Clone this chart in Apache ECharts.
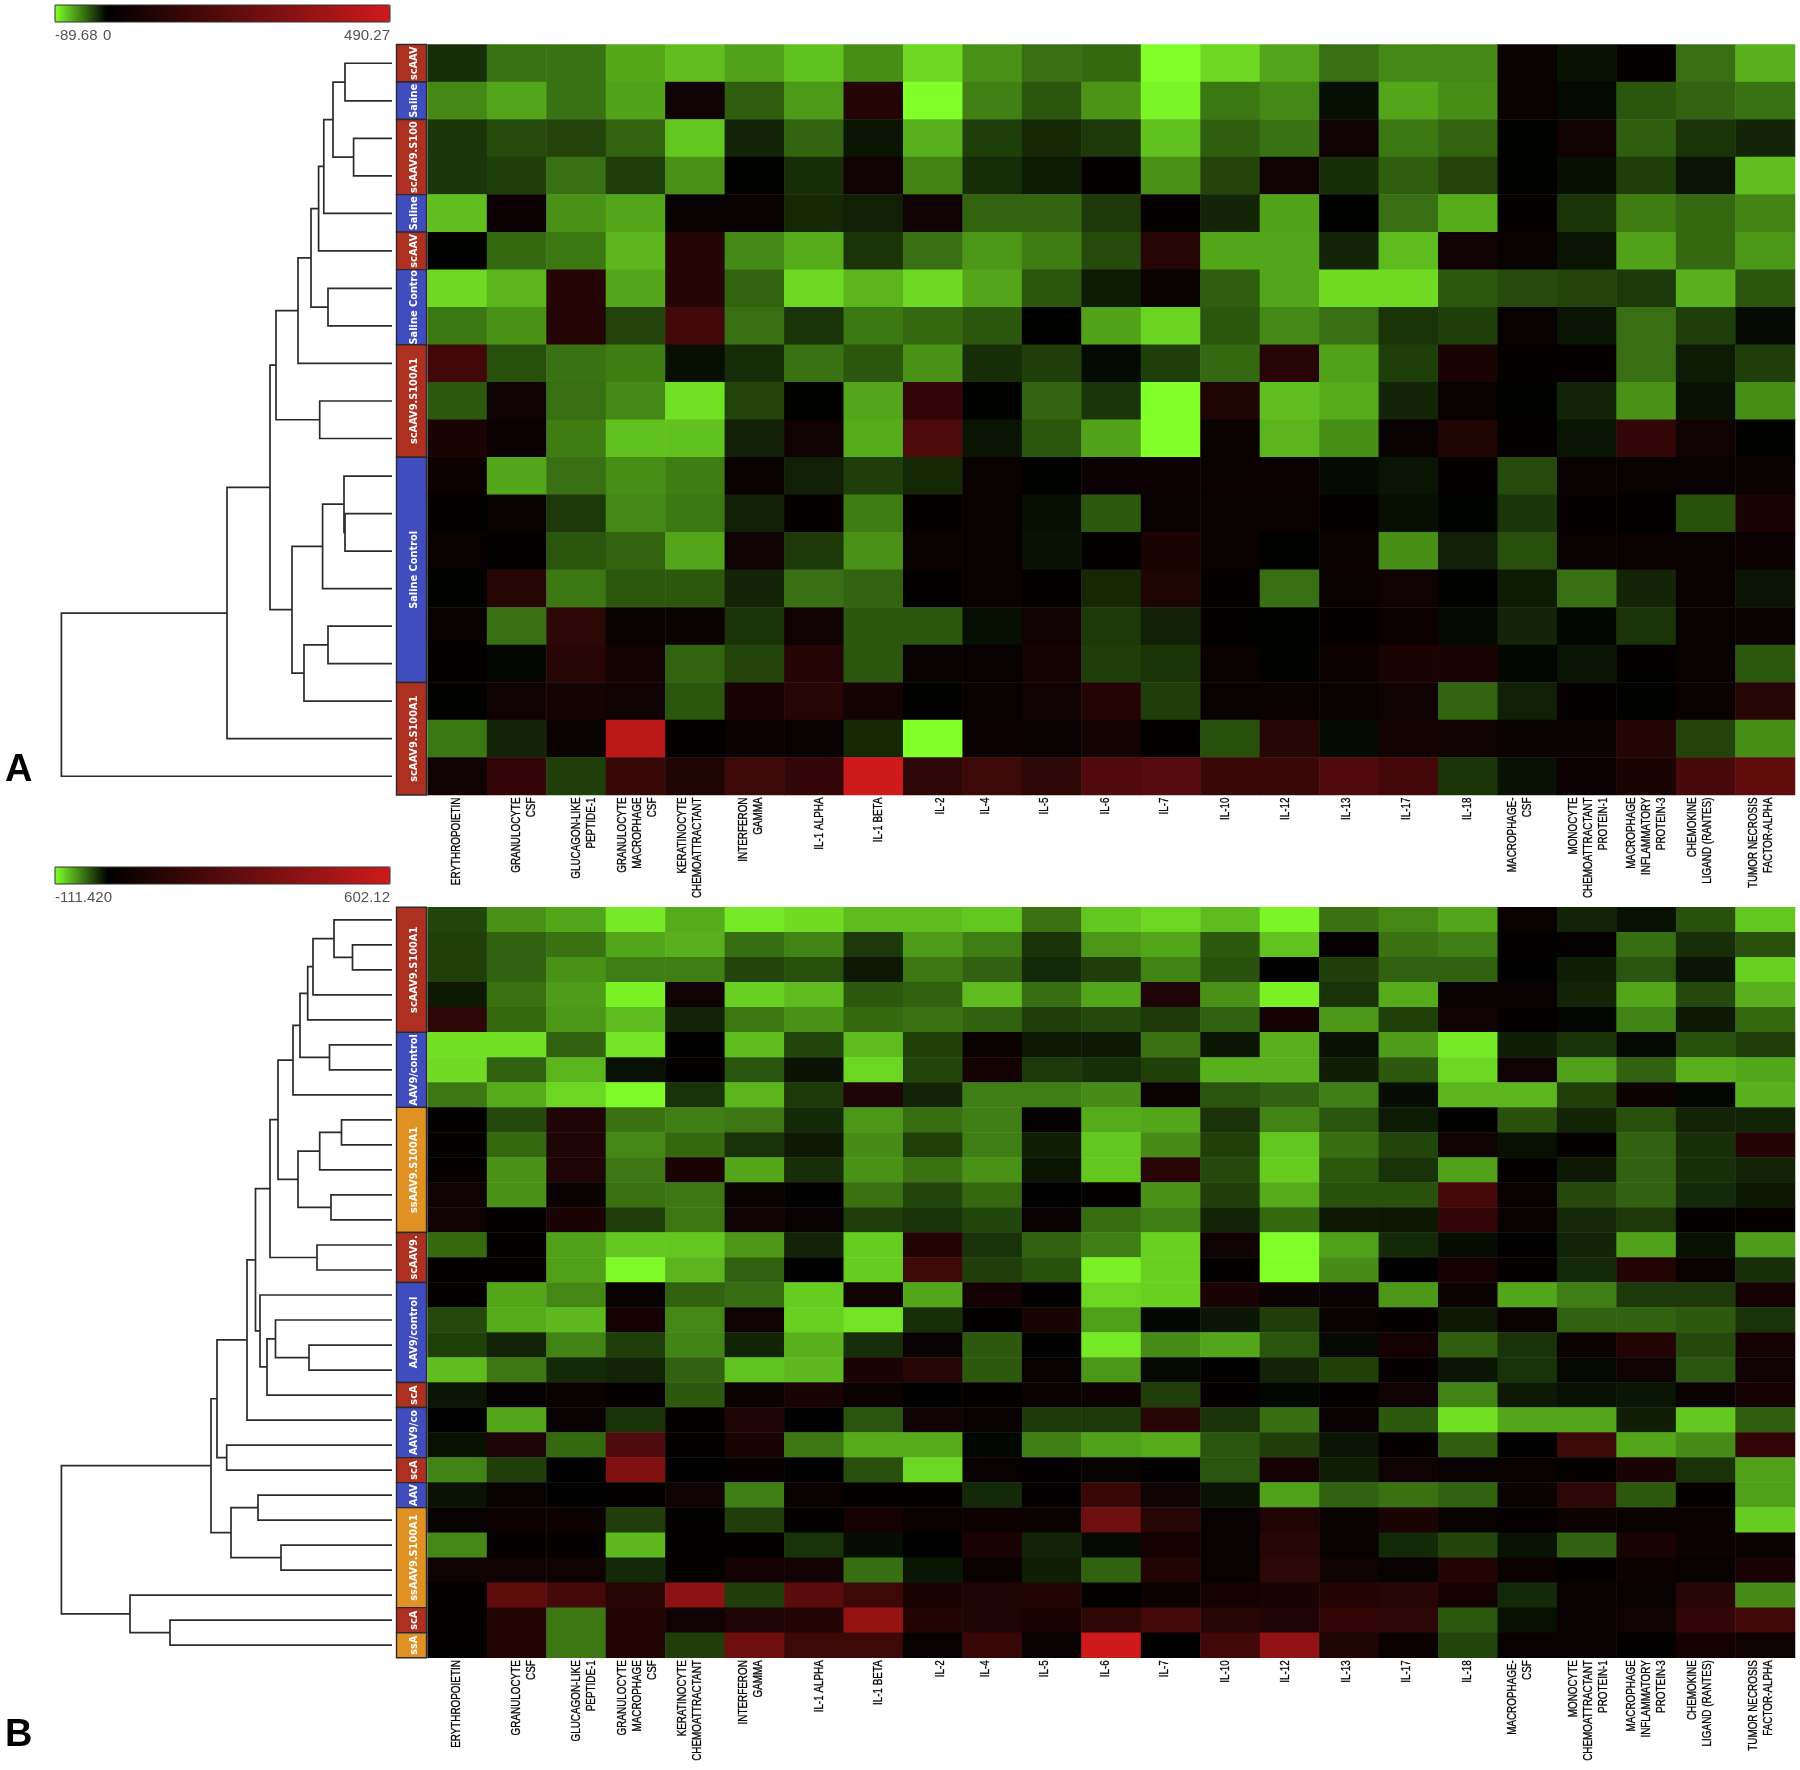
<!DOCTYPE html>
<html><head><meta charset="utf-8">
<style>html,body{margin:0;padding:0;background:#fff}#c{width:1800px;height:1770px}</style>
<script src="https://cdn.jsdelivr.net/npm/echarts@6/dist/echarts.min.js"></script>
</head><body><div id="c"></div>
<script>
const cytokines = ["ERYTHROPOIETIN","GRANULOCYTE\nCSF","GLUCAGON-LIKE\nPEPTIDE-1","GRANULOCYTE\nMACROPHAGE\nCSF","KERATINOCYTE\nCHEMOATTRACTANT","INTERFERON\nGAMMA","IL-1 ALPHA","IL-1 BETA","IL-2","IL-4","IL-5","IL-6","IL-7","IL-10","IL-12","IL-13","IL-17","IL-18","MACROPHAGE-\nCSF","MONOCYTE\nCHEMOATTRACTANT\nPROTEIN-1","MACROPHAGE\nINFLAMMATORY\nPROTEIN-3","CHEMOKINE\nLIGAND (RANTES)","TUMOR NECROSIS\nFACTOR-ALPHA"];

const rangeA = [-89.68, 490.27];
const rangeB = [-111.42, 602.12];

const heatA = [
[-16,-40,-40,-59,-67,-57,-68,-50,-76,-51,-39,-37,-90,-76,-58,-39,-48,-48,24,-6,12,-39,-62],
[-48,-58,-40,-57,36,-33,-54,84,-90,-45,-30,-52,-86,-42,-48,-5,-58,-50,24,-3,-30,-35,-40],
[-19,-26,-24,-35,-70,-13,-35,-7,-62,-22,-14,-20,-68,-33,-40,36,-42,-35,0,36,-33,-18,-13],
[-19,-22,-39,-22,-51,0,-16,36,-46,-16,-9,12,-51,-24,36,-16,-33,-24,0,-5,-22,-7,-67],
[-67,29,-51,-58,19,19,-14,-11,36,-35,-35,-20,12,-13,-57,0,-39,-60,12,-18,-44,-37,-46],
[0,-37,-42,-64,84,-48,-60,-18,-39,-53,-44,-26,96,-58,-58,-13,-66,36,19,-7,-57,-37,-53],
[-76,-64,84,-58,84,-35,-76,-64,-76,-58,-30,-9,24,-33,-58,-77,-77,-31,-26,-24,-20,-62,-30],
[-42,-51,84,-24,156,-39,-18,-42,-37,-30,0,-57,-74,-30,-48,-39,-18,-22,19,-7,-39,-22,-4],
[156,-28,-40,-44,-5,-16,-40,-30,-51,-16,-22,-3,-22,-37,96,-57,-22,60,12,12,-39,-9,-22],
[-31,36,-39,-48,-79,-24,0,-58,120,0,-35,-18,-90,72,-67,-60,-13,19,0,-13,-51,-6,-50],
[60,29,-44,-68,-68,-11,36,-60,180,-7,-30,-57,-90,24,-64,-50,19,72,12,-7,120,36,0],
[29,-58,-39,-50,-44,24,-11,-22,-14,24,0,29,29,24,29,-4,-7,12,-26,19,19,19,24],
[7,19,-20,-48,-42,-11,12,-44,12,19,-5,-31,19,24,24,12,-5,-1,-19,12,7,-28,60],
[19,7,-30,-35,-58,36,-20,-51,24,19,-6,7,60,24,0,24,-50,-11,-28,19,24,19,29],
[0,96,-42,-31,-31,-13,-39,-35,7,24,7,-14,72,12,-39,24,36,0,-9,-39,-13,24,-7],
[19,-39,108,24,24,-18,36,-30,-30,-5,36,-20,-11,7,0,12,29,-3,-13,-2,-18,19,19],
[12,-2,96,48,-35,-24,84,-30,19,19,48,-22,-18,24,0,29,60,60,-2,-7,7,19,-31],
[0,36,48,36,-30,60,96,48,0,19,36,84,-22,19,24,19,36,-35,-11,12,0,24,96],
[-42,-13,24,442,7,29,19,-14,-90,29,19,48,7,-28,96,-4,43,36,24,24,84,-24,-50],
[36,120,-22,132,72,144,120,490,108,144,108,192,204,132,132,192,156,-18,-6,29,60,168,228]
];

const heatB = [
[-30,-64,-72,-102,-75,-102,-96,-82,-82,-87,-50,-87,-94,-82,-107,-50,-59,-72,23,-16,-7,-35,-87],
[-28,-43,-50,-72,-77,-48,-57,-25,-68,-55,-22,-66,-72,-39,-85,15,-50,-55,9,15,-48,-20,-35],
[-28,-43,-64,-55,-55,-30,-35,-11,-52,-43,-18,-27,-57,-35,0,-27,-43,-43,0,-13,-37,-9,-91],
[-11,-50,-68,-105,44,-91,-82,-39,-43,-82,-48,-72,87,-64,-105,-22,-75,23,23,-16,-72,-32,-77],
[130,-46,-66,-82,-16,-52,-64,-46,-50,-43,-27,-32,-25,-43,58,-66,-28,44,15,-2,-57,-11,-46],
[-98,-98,-43,-100,0,-82,-30,-82,-28,29,-11,-11,-50,-9,-77,-7,-68,-102,-13,-22,-4,-35,-27],
[-96,-43,-79,-7,9,-37,-8,-94,-30,58,-25,-20,-28,-77,-77,-13,-39,-94,44,-70,-43,-77,-72],
[-52,-75,-94,-109,-22,-79,-25,87,-16,-55,-55,-61,23,-37,-43,-55,-6,-79,-79,-28,35,-2,-77],
[9,-32,87,-50,-55,-52,-18,-66,-48,-55,15,-75,-72,-22,-57,-37,-12,9,-35,-16,-35,-16,-16],
[15,-46,87,-59,-46,-22,-11,-61,-28,-55,-13,-87,-61,-28,-87,-48,-30,44,-7,15,-43,-20,102],
[15,-64,87,-52,73,-72,-20,-64,-50,-64,-9,-87,116,-32,-89,-39,-22,-70,9,-11,-43,-20,-16],
[44,-64,29,-50,-52,29,0,-50,-30,-46,0,9,-64,-27,-75,-35,-35,203,23,-32,-43,-18,-10],
[44,9,73,-27,-52,44,23,-27,-22,-30,23,-48,-55,-16,-46,-11,-10,145,23,-17,-25,15,15],
[-46,9,-70,-87,-87,-66,-16,-89,102,-22,-43,-55,-91,44,-111,-70,-18,-6,0,-16,-70,-7,-68],
[15,9,-70,-109,-79,-43,0,-89,174,-27,-35,-105,-91,9,-111,-61,0,58,15,-18,102,29,-20],
[9,-72,-59,23,-43,-48,-89,44,-72,58,0,-94,-91,73,35,29,-66,29,-72,-55,-25,-25,58],
[-32,-75,-81,58,-59,44,-91,-100,-20,9,73,-70,-3,-9,-27,29,15,-11,29,-43,-43,-39,-22],
[-28,-16,-57,-27,-57,-16,-77,-20,23,-39,0,-102,-61,-72,-37,-4,58,-41,-22,29,102,-32,58],
[-82,-52,-18,-16,-43,-85,-81,73,116,-39,23,-66,-4,0,-16,-28,15,-9,-22,-4,44,-37,44],
[-9,15,29,15,-39,29,73,29,0,9,29,35,-27,15,-3,15,44,-57,-11,-7,-9,29,58],
[0,-72,23,-22,15,87,0,-37,44,23,-25,-25,116,-22,-48,23,-39,-98,-72,-72,-13,-87,-41],
[-7,87,-46,232,9,73,-52,-75,-75,-3,-55,-70,-75,-37,-27,-9,15,-41,0,174,-72,-61,145],
[-57,-27,0,377,0,15,0,-35,-94,23,15,23,0,-37,58,-13,44,23,29,15,73,-22,-70],
[-8,23,0,15,44,-55,29,9,15,-18,6,160,44,-8,-70,-43,-50,-43,29,130,-39,15,-70],
[23,35,35,-27,9,-27,9,58,29,35,29,319,116,23,87,23,73,23,15,35,29,29,-89],
[-59,15,15,-81,9,15,-22,-6,0,73,-16,-4,58,23,116,23,-18,-30,-8,-43,73,35,29],
[44,44,44,-18,15,58,52,-48,-9,29,-13,-43,102,23,130,44,23,102,29,9,35,23,73],
[9,276,203,116,406,-27,261,174,73,87,102,9,35,58,73,102,116,58,-18,29,23,116,-61],
[9,102,-52,102,44,87,102,435,102,87,73,130,203,116,87,145,130,-39,-7,23,44,145,189],
[9,102,-52,102,-27,319,174,174,23,160,23,602,0,189,421,87,29,-30,23,23,9,58,44]
];

// Sample-group side bars: [label, group, first row, row count]
const groupsA = [
["scAAV","r",0,1],["Saline","b",1,1],["scAAV9.S100","r",2,2],["Saline","b",4,1],["scAAV","r",5,1],
["Saline Contro","b",6,2],["scAAV9.S100A1","r",8,3],["Saline Control","b",11,6],["scAAV9.S100A1","r",17,3]
];
const groupsB = [
["scAAV9.S100A1","r",0,5],["AAV9/control","b",5,3],["ssAAV9.S100A1","o",8,5],["scAAV9.","r",13,2],
["AAV9/control","b",15,4],["scA","r",19,1],["AAV9/co","b",20,2],["scA","r",22,1],["AAV","b",23,1],
["ssAAV9.S100A1","o",24,4],["scA","r",28,1],["ssA","o",29,1]
];

// Dendrogram merges: [height, child, child]; child >=0 is a row, child <0 is merge -(index+1)
const treeA = [
[345,0,1],[353.6,2,3],[333,-1,-2],[323.8,-3,4],[318.6,-4,5],[328,6,7],[311,-5,-6],[298,-7,8],[319.7,9,10],[276,-8,-9],
[345,12,13],[344,11,-11],[322.6,-12,14],[328,15,16],[304,-14,17],[292,-13,-15],[270,-10,-16],[227,-17,18],[61.4,-18,19]
];
const treeB = [
[352.5,1,2],[334,0,-1],[313,-2,3],[307.7,-3,4],[329.5,5,6],[300,-4,-5],[293,-6,7],
[341.5,8,9],[319.7,-8,10],[331,11,12],[298,-9,-10],[278,-7,-11],[317,13,14],[270,-12,-13],
[309,17,18],[275.5,16,-15],[267,-16,19],[260,15,-17],[255.5,-14,-18],[247,-19,20],
[226.7,21,22],[217,-20,-21],[258,23,24],[281,25,26],[231,-23,-24],[211,-22,-25],
[170,28,29],[130,27,-27],[61.4,-26,-28]
];

// Sideways nudge of each column's label block (styling only)
const labelNudge = [-1,7,8,2,-5,-4,5,5,7,-7,-7,-6,-6,-5,-4,-3,-2,-1,-8,2,0,-6,-4];

const groupColors = {r:'#ae3020', b:'#404dbe', o:'#e09123'};
const GREEN='#80ff28', RED='#cf1a1c';

function hex(h){return [1,3,5].map(i=>parseInt(h.substr(i,2),16));}
function ramp(min,max){
  const out=[], n=300, g=hex(GREEN), r=hex(RED);
  for(let i=0;i<=n;i++){
    const v=min+(max-min)*i/n;
    const c=v<0?g:r, t=v<0?v/min:v/max;
    out.push('rgb('+c.map(x=>Math.round(x*t)).join(',')+')');
  }
  return out;
}
function cells(m){const d=[];m.forEach((row,y)=>row.forEach((v,x)=>d.push([x,y,v])));return d;}
function treeSegs(tree){
  const pos=[];const segs=[];
  const get=c=>c>=0?[c+0.5,392]:pos[-c-1];
  tree.forEach(t=>{
    const a=get(t[1]),b=get(t[2]);
    segs.push([t[0],a[0],a[1],b[0],b[1]]);
    pos.push([(a[0]+b[0])/2,t[0]]);
  });
  return segs;
}

const PANELS=[{heat:heatA,groups:groupsA,tree:treeA,range:rangeA,top:44.5,h:750.5,barTop:5,labTop:36,labs:['-89.68','0','490.27'],zero:106},
              {heat:heatB,groups:groupsB,tree:treeB,range:rangeB,top:907.3,h:750.4,barTop:867,labTop:898,labs:['-111.420',null,'602.12']}];

const grid=[],xAxis=[],yAxis=[],series=[],visualMap=[],graphic=[];
PANELS.forEach((p,i)=>{
  const hi=i*2, di=i*2+1, rows=p.heat.length;
  grid.push({left:427.6,top:p.top,width:1367.4,height:p.h,containLabel:false,outerBoundsMode:'none'});
  grid.push({left:0,top:p.top,width:427.6,height:p.h,outerBoundsMode:'none'});
  xAxis.push({type:'category',gridIndex:hi,data:cytokines,position:'bottom',axisLine:{show:false},axisTick:{show:false},splitLine:{show:false},axisLabel:{show:false}});
  yAxis.push({type:'category',gridIndex:hi,inverse:true,data:p.heat.map((_,r)=>r),show:false});
  xAxis.push({type:'value',gridIndex:di,min:0,max:427.6,show:false});
  yAxis.push({type:'value',gridIndex:di,min:0,max:rows,inverse:true,show:false});

  series.push({type:'heatmap',xAxisIndex:hi,yAxisIndex:hi,data:cells(p.heat),progressive:0,itemStyle:{borderWidth:0},emphasis:{disabled:true},animation:false});
  visualMap.push({type:'continuous',seriesIndex:series.length-1,min:p.range[0],max:p.range[1],orient:'horizontal',left:55,top:p.barTop,itemWidth:17,itemHeight:335,padding:0,calculable:false,realtime:false,hoverLink:false,
    inRange:{color:ramp(p.range[0],p.range[1])},textStyle:{color:'#555'}});

  // Column labels: condensed rotated text placed from the category axis
  series.push({type:'custom',xAxisIndex:hi,yAxisIndex:hi,silent:true,animation:false,clip:false,
    data:cytokines.map((c,k)=>[k,0]),encode:{x:0,y:1},
    renderItem:(params,api)=>{
      const k=api.value(0), cs=params.coordSys;
      return {type:'text',x:api.coord([k,0])[0]+labelNudge[k],y:cs.y+cs.height+2.5,rotation:Math.PI/2,scaleX:0.76,scaleY:1,
        style:{text:cytokines[k],align:'right',verticalAlign:'middle',fill:'#000',stroke:'#000',lineWidth:0.3,font:'13px "Liberation Sans"',lineHeight:15}};
    }});

  series.push({type:'custom',xAxisIndex:di,yAxisIndex:di,silent:true,animation:false,clip:false,data:treeSegs(p.tree),
    encode:{x:0,y:1},
    renderItem:(params,api)=>{
      const h=api.value(0);
      const a=api.coord([api.value(2),api.value(1)]),m1=api.coord([h,api.value(1)]),m2=api.coord([h,api.value(3)]),b=api.coord([api.value(4),api.value(3)]);
      return {type:'polyline',shape:{points:[a,m1,m2,b]},style:{fill:null,stroke:'#2b2b2b',lineWidth:1.7}};
    }});
  const groups=p.groups;
  series.push({type:'custom',xAxisIndex:di,yAxisIndex:di,silent:true,animation:false,clip:false,
    data:groups.map((g,k)=>[k,g[2],g[3]]),encode:{x:0,y:1},
    renderItem:(params,api)=>{
      const g=groups[api.value(0)];
      const p0=api.coord([396.5,g[2]]),p1=api.coord([426.5,g[2]+g[3]]);
      return {type:'group',children:[
        {type:'rect',shape:{x:p0[0],y:p0[1],width:p1[0]-p0[0],height:p1[1]-p0[1]},style:{fill:groupColors[g[1]],stroke:'#2a2a2a',lineWidth:1.4}},
        {type:'text',x:(p0[0]+p1[0])/2+3,y:(p0[1]+p1[1])/2,rotation:Math.PI/2,
          style:{text:g[0],align:'center',verticalAlign:'middle',fill:'#fff',font:'bold 9.8px "DejaVu Sans"'}}
      ]};
    }});

  graphic.push({type:'rect',shape:{x:55,y:p.barTop,width:335,height:17},style:{fill:null,stroke:'#333',lineWidth:1},z:100,silent:true});
  const font='15px "Liberation Sans"';
  graphic.push({type:'text',x:55,y:p.labTop,style:{text:p.labs[0],fill:'#555',font,verticalAlign:'middle',align:'left'}});
  if(p.labs[1]) graphic.push({type:'text',x:p.zero-3,y:p.labTop,style:{text:p.labs[1],fill:'#555',font,verticalAlign:'middle',align:'left'}});
  graphic.push({type:'text',x:390,y:p.labTop,style:{text:p.labs[2],fill:'#555',font,verticalAlign:'middle',align:'right'}});
});
graphic.push({type:'text',x:5,y:771,style:{text:'A',fill:'#000',font:'bold 38px "Liberation Sans"',verticalAlign:'middle'}});
graphic.push({type:'text',x:5,y:1736,style:{text:'B',fill:'#000',font:'bold 38px "Liberation Sans"',verticalAlign:'middle'}});

const chart=echarts.init(document.getElementById('c'),null,{renderer:'canvas'});
chart.setOption({animation:false,backgroundColor:'#fff',grid,xAxis,yAxis,visualMap,series,graphic:{elements:graphic}});
</script></body></html>
